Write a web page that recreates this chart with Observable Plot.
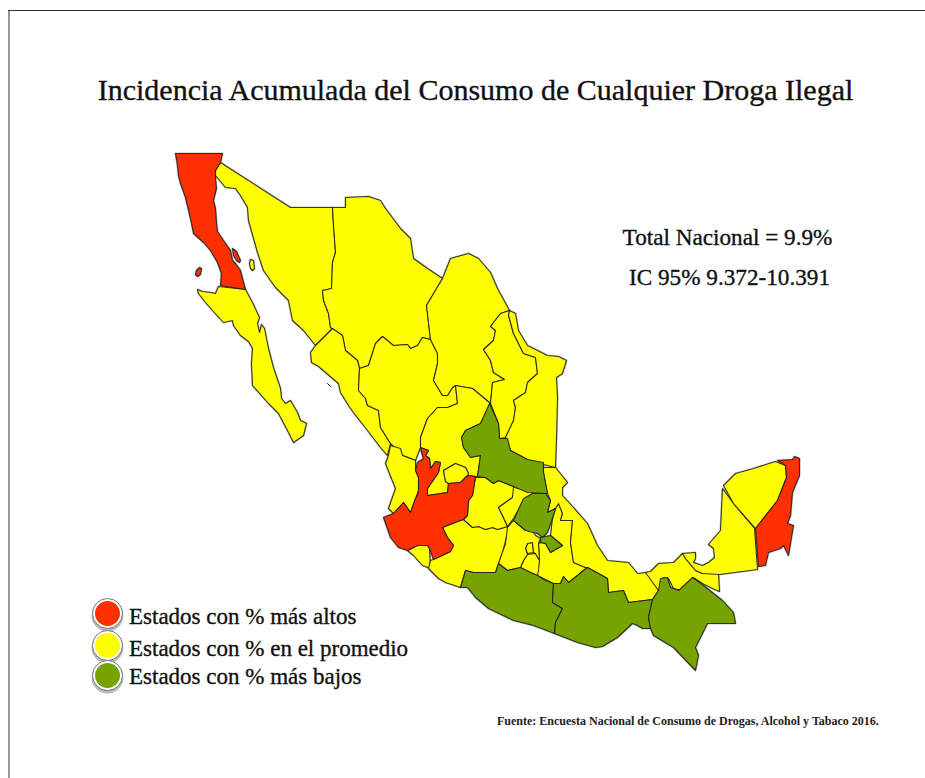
<!DOCTYPE html>
<html><head><meta charset="utf-8">
<script src="https://cdn.jsdelivr.net/npm/d3@7"></script>
<script src="https://cdn.jsdelivr.net/npm/@observablehq/plot@0.6"></script>
<style>html,body{margin:0;padding:0;background:#fff}</style>
</head><body>
<div id="chart"></div>
<script>
const titleText = "Incidencia Acumulada del Consumo de Cualquier Droga Ilegal";
const totalLines = ["Total Nacional = 9.9%", "IC 95% 9.372-10.391"];
const sourceText = "Fuente: Encuesta Nacional de Consumo de Drogas, Alcohol y Tabaco 2016.";
const levels = ["Estados con % más altos", "Estados con % en el promedio", "Estados con % más bajos"];
const levelColors = ["#ff3000", "#ffff00", "#76a300"];

// Outlines, in map units
const bajaCalifornia = [[175,153],[222,153],[220,162],[215,170],[215,178],[216,188],[213,200],[215,208],[216,222],[217,231],[223,240],[230,250],[232,260],[235,263],[240,270],[242,278],[245,289],[220,285],[221,273],[217,262],[210,250],[203,242],[193,233],[190,218],[185,197],[180,183],[178,175],[177,165]];
const islaGuadalupe = [[196,270],[199,267],[201,268],[200,274],[197,276],[195,274]];
const islaAngel = [[232,248],[236,251],[240,260],[239,262],[236,260],[233,255]];
const jalisco = [[420,447],[428,450],[425,455],[429,458],[430,468],[435,461],[440,462],[438,472],[427,488],[427,495],[447,492],[448,483],[460,482],[467,475],[475,476],[472,495],[468,500],[467,515],[463,519],[457,521],[442,527],[447,537],[453,545],[450,551],[433,559],[429,548],[427,545],[417,545],[407,550],[398,547],[390,537],[383,517],[393,513],[403,502],[410,512],[415,498],[417,495],[418,490],[418,477],[415,470],[417,462],[423,458],[421,452]];
const quintanaRoo = [[777,460],[792,459],[794,456],[799,458],[799,475],[792,492],[790,515],[787,523],[793,525],[788,555],[783,545],[780,548],[768,552],[765,565],[758,566],[755,528],[777,500],[786,477],[785,465]];

const sonora = [[220,162],[290,207],[332,207],[333,225],[335,252],[332,262],[331,288],[322,290],[323,300],[328,313],[330,327],[332,328],[315,345],[303,330],[292,320],[288,300],[275,287],[263,270],[257,252],[248,220],[247,207],[240,195],[235,188],[225,187],[215,175],[215,170]];
const islaTiburon = [[250,259],[253,260],[254,268],[252,270],[250,268],[249,263]];
const bajaCaliforniaSur = [[197,289],[202,291],[210,292],[215,293],[218,286],[245,289],[252,302],[259,317],[257,323],[259,332],[261,324],[264,328],[268,348],[273,367],[280,388],[281,398],[285,403],[290,400],[297,412],[300,420],[306,423],[303,435],[293,442],[288,432],[278,413],[268,403],[252,385],[251,363],[252,348],[248,341],[240,335],[233,325],[232,320],[223,322],[212,310],[205,302],[198,293]];
const chihuahua = [[332,207],[345,207],[345,197],[368,196],[380,200],[385,208],[400,228],[410,238],[413,258],[427,268],[442,278],[426,305],[430,339],[422,337],[417,345],[410,348],[407,344],[393,345],[382,336],[375,343],[368,365],[359,368],[357,360],[345,350],[342,335],[330,327],[328,313],[323,300],[322,290],[331,288],[332,262],[335,252],[333,225]];
const sinaloa = [[332,328],[342,335],[345,350],[357,360],[359,368],[358,390],[365,398],[367,405],[378,410],[380,427],[390,443],[387,455],[380,447],[367,430],[353,412],[348,405],[340,392],[338,383],[318,366],[311,362],[310,352],[315,345]];
const durango = [[430,339],[437,353],[437,363],[433,380],[442,395],[447,395],[452,387],[455,385],[457,403],[447,407],[437,407],[427,418],[420,437],[420,447],[415,460],[408,457],[402,455],[390,443],[380,427],[378,410],[367,405],[365,398],[358,390],[359,368],[368,365],[375,343],[382,336],[393,345],[407,344],[410,348],[417,345],[422,337]];
const coahuila = [[442,278],[450,258],[468,253],[478,258],[490,272],[497,288],[509,310],[500,313],[490,326],[495,330],[493,340],[483,349],[490,360],[493,372],[504,379],[492,382],[490,403],[472,388],[455,385],[452,387],[447,395],[442,395],[433,380],[437,363],[437,353],[430,339],[426,305]];
const nuevoLeon = [[500,313],[509,310],[508,315],[513,333],[523,353],[535,357],[537,373],[527,382],[525,392],[513,400],[515,407],[513,420],[505,437],[499,438],[498,423],[490,403],[492,382],[504,379],[493,372],[490,360],[483,349],[493,340],[495,330],[490,326]];
const tamaulipas = [[509,310],[515,313],[518,330],[527,345],[547,355],[558,356],[566,360],[562,373],[556,377],[557,397],[556,437],[555,467],[543,464],[527,459],[510,450],[505,437],[513,420],[515,407],[513,400],[525,392],[527,382],[537,373],[535,357],[523,353],[513,333],[508,315]];
const zacatecas = [[455,385],[472,388],[490,403],[480,423],[465,430],[461,437],[463,447],[470,457],[480,455],[477,476],[467,475],[468,473],[465,467],[455,463],[443,470],[445,481],[448,483],[447,492],[427,495],[427,488],[438,472],[440,462],[435,461],[430,468],[429,458],[425,455],[428,450],[420,447],[420,437],[427,418],[437,407],[447,407],[457,403]];
const aguascalientes = [[443,470],[455,463],[465,467],[468,473],[467,475],[460,482],[448,483],[445,481]];
const nayarit = [[390,445],[400,448],[402,455],[415,460],[415,470],[418,477],[418,490],[415,498],[410,512],[403,502],[393,513],[388,508],[395,488],[385,463],[388,455]];
const colima = [[407,550],[417,545],[427,545],[429,548],[430,568],[422,565],[413,555]];
const michoacan = [[463,519],[472,527],[478,526],[485,529],[492,527],[497,529],[507,526],[508,528],[502,553],[498,563],[495,572],[473,572],[465,570],[460,587],[445,582],[438,578],[428,568],[430,560],[433,559],[450,551],[453,545],[447,537],[442,527],[457,521]];
const guanajuato = [[475,477],[485,477],[493,483],[498,480],[513,486],[514,490],[512,497],[498,507],[502,515],[507,526],[497,529],[492,527],[485,529],[478,526],[472,527],[463,519],[467,515],[468,500],[472,495]];
const queretaro = [[513,486],[517,488],[527,483],[533,495],[522,502],[513,518],[507,526],[502,515],[498,507],[512,497]];
const puebla = [[558,503],[562,513],[560,520],[572,520],[570,542],[573,562],[585,567],[587,567],[583,570],[577,575],[568,582],[563,576],[560,583],[553,583],[537,575],[535,577],[539,560],[538,543],[540,542],[545,543],[550,552],[562,545],[550,535],[552,518],[555,508]];
const morelos = [[527,554],[535,553],[539,560],[538,570],[537,575],[530,572],[520,567],[523,560]];
const cdmx = [[527,543],[532,542],[533,552],[527,553],[525,548]];
const estadoMexico = [[513,520],[525,530],[530,527],[535,535],[540,538],[538,543],[539,560],[535,553],[533,552],[532,542],[527,543],[525,548],[527,554],[523,560],[520,567],[507,570],[498,563],[505,543],[507,527]];
const veracruz = [[543,467],[555,467],[567,482],[562,487],[562,495],[573,507],[587,523],[597,545],[607,560],[628,562],[637,573],[647,572],[658,590],[652,599],[628,602],[623,590],[608,592],[607,578],[587,567],[585,567],[573,562],[570,542],[572,520],[560,520],[562,513],[558,503],[555,508],[547,512],[550,500],[547,493],[543,472]];
const tabasco = [[645,572],[650,571],[658,563],[673,562],[682,553],[685,558],[695,570],[702,573],[718,572],[719,591],[712,588],[702,583],[693,577],[682,590],[673,588],[668,578],[663,577],[660,588],[658,590]];
const campeche = [[682,553],[695,552],[695,558],[693,562],[702,565],[708,562],[714,557],[713,548],[708,544],[720,530],[722,488],[733,503],[754,528],[757,569],[719,574],[702,573],[695,570],[685,558]];
const yucatan = [[723,485],[735,473],[753,468],[775,461],[785,465],[786,477],[777,500],[755,528],[733,503]];

const sanLuisPotosi = [[489,403],[498,423],[499,438],[507,438],[510,450],[527,459],[543,462],[543,472],[547,493],[527,492],[513,486],[498,480],[493,483],[485,477],[477,476],[480,455],[470,457],[463,447],[461,437],[465,430],[480,423]];
const hidalgo = [[532,493],[545,493],[550,500],[547,512],[555,508],[552,518],[547,532],[542,537],[537,533],[525,530],[513,520],[523,498]];
const tlaxcala = [[540,537],[550,535],[562,545],[550,552],[545,543],[540,542]];
const guerrero = [[460,587],[465,570],[473,572],[495,572],[498,563],[507,570],[520,567],[530,572],[537,575],[545,580],[553,583],[552,602],[562,608],[555,622],[554,633],[533,625],[513,620],[488,608],[475,597],[467,587]];
const oaxaca = [[553,583],[560,583],[563,576],[568,582],[577,575],[583,570],[587,567],[607,578],[608,592],[623,590],[628,602],[652,599],[648,617],[650,628],[642,628],[637,625],[632,623],[617,637],[602,646],[595,647],[577,642],[554,633],[555,622],[562,608],[552,602]];
const chiapas = [[652,599],[658,590],[660,578],[667,577],[670,587],[678,590],[692,577],[703,585],[722,600],[733,612],[735,623],[707,623],[695,647],[698,655],[695,670],[673,647],[653,635],[650,628],[648,617]];

const highStates = {bajaCalifornia, islaGuadalupe, islaAngel, jalisco, quintanaRoo};
const midStates = {sonora, islaTiburon, bajaCaliforniaSur, chihuahua, sinaloa, durango, coahuila, nuevoLeon, tamaulipas, zacatecas, aguascalientes, nayarit, colima, michoacan, guanajuato, queretaro, puebla, morelos, cdmx, estadoMexico, veracruz, tabasco, campeche, yucatan};
const lowStates = {sanLuisPotosi, hidalgo, tlaxcala, guerrero, oaxaca, chiapas};

const rows = [];
[midStates, lowStates, highStates].forEach((group, i) => {
  for (const [state, ring] of Object.entries(group)) {
    for (const [x, y] of [...ring, ring[0]]) rows.push({state, level: levels[[1, 2, 0][i]], x, y});
  }
});
const islet = [{x:327,y:383},{x:330,y:386}];

const serif = "'Liberation Serif', serif";
const legendRows = levels.map((level, i) => ({level, x: 107, y: [613, 645, 675][i], ty: [616, 648, 676][i]}));
const textInk = {fill: "#111", stroke: "#111", strokeWidth: 0.35, fontFamily: serif, lineAnchor: "bottom"};

const chart = Plot.plot({
  width: 925, height: 778,
  margin: 0,
  x: {domain: [0, 925], range: [0, 925], axis: null},
  y: {domain: [0, 778], range: [0, 778], axis: null},
  color: {domain: levels, range: levelColors},
  style: {background: "#fff", overflow: "hidden"},
  marks: [
    Plot.ruleX([8.5], {y1: 10, y2: 778, stroke: "#333", strokeWidth: 1}),
    Plot.ruleY([10], {x1: 8, x2: 925, stroke: "#333", strokeWidth: 1}),
    Plot.line(rows, {x: "x", y: "y", z: "state", stroke: "#999", strokeWidth: 2.2, strokeOpacity: 0.6, curve: "linear"}),
    Plot.line(rows, {x: "x", y: "y", z: "state", fill: "level", stroke: "#1a1a1a", strokeWidth: 1.1, strokeOpacity: 0.85, curve: "linear"}),
    Plot.line(islet, {x: "x", y: "y", stroke: "#222", strokeWidth: 1}),
    Plot.text([titleText], {...textInk, x: () => 475, y: () => 99, fontSize: 30, textAnchor: "middle"}),
    Plot.text([totalLines[0]], {...textInk, x: () => 727, y: () => 244, fontSize: 23.2, textAnchor: "middle"}),
    Plot.text([totalLines[1]], {...textInk, x: () => 729, y: () => 284.5, fontSize: 23.2, textAnchor: "middle"}),
    Plot.dot(legendRows, {x: "x", y: "y", r: 16, dy: 2, fill: "#8a8a8a", fillOpacity: 0.6}),
    Plot.dot(legendRows, {x: "x", y: "y", r: 15, fill: "#fff", stroke: "#777", strokeWidth: 1}),
    Plot.dot(legendRows, {x: "x", y: "y", r: 12.5, fill: "level"}),
    Plot.text(legendRows, {...textInk, x: () => 128.5, y: "ty", text: "level", fontSize: 23, textAnchor: "start", dy: 7}),
    Plot.text([sourceText], {x: () => 496.5, y: () => 724.5, fontFamily: serif, fontSize: 12, fontWeight: "bold", fill: "#222", textAnchor: "start", lineAnchor: "bottom"})
  ]
});
document.getElementById("chart").appendChild(chart);
</script>
</body></html>
